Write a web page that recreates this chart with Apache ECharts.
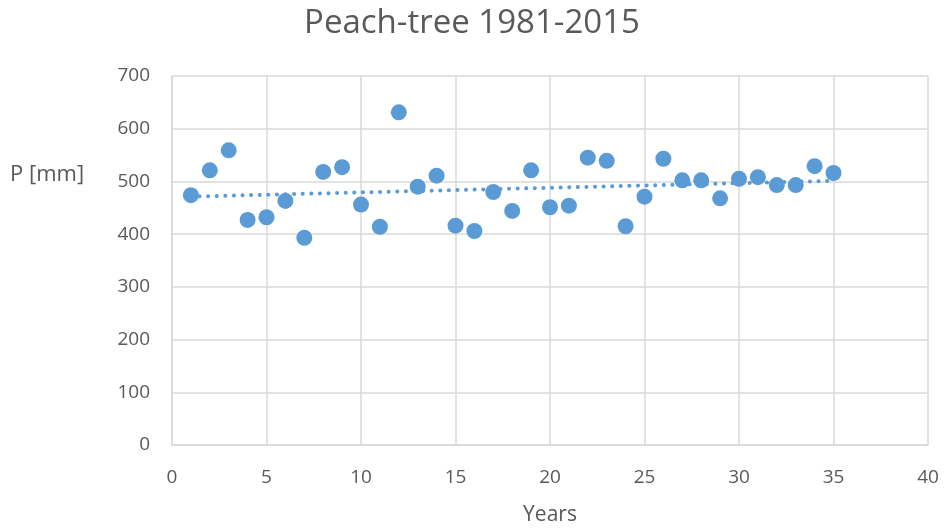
<html>
<head>
<meta charset="UTF-8">
<title>Peach-tree 1981-2015</title>
<script src="https://cdn.jsdelivr.net/npm/echarts@6/dist/echarts.min.js"></script>
<style>html,body,#container{width:100%;height:100%;margin:0;padding:0;background:#fff;}</style>
</head>
<body>
<div id="container"></div>
<script>
// year index 1..35 (1981-2015) and annual precipitation
var years = [1,2,3,4,5,6,7,8,9,10,11,12,13,14,15,16,17,18,19,20,21,22,23,24,25,26,27,28,29,30,31,32,33,34,35];
var precip = [474,521,559,427,432,463,393,518,527,456,414,631,490,511,416,406,480,444,521,451,
              454,545,539,415,471,543,502,502,468,505,508,493,493,529,516];

var points = [];
for (var i = 0; i < years.length; i++) points.push([years[i], precip[i]]);

// linear trend (least squares), like the spreadsheet trendline
var n = years.length, sx = 0, sy = 0, sxx = 0, sxy = 0;
for (var i = 0; i < n; i++) {
  sx += years[i]; sy += precip[i];
  sxx += years[i] * years[i]; sxy += years[i] * precip[i];
}
var slope = (n * sxy - sx * sy) / (n * sxx - sx * sx);
var icpt = (sy - slope * sx) / n;
var trend = [[years[0], icpt + slope * years[0]], [years[n - 1], icpt + slope * years[n - 1]]];

var font = '"Open Sans", sans-serif';
var myChart = echarts.init(document.getElementById('container'));
myChart.setOption({
  animation: false,
  title: {
    text: 'Peach-tree 1981-2015',
    left: 'center',
    top: 2,
    textStyle: { fontFamily: font, fontSize: 33, fontWeight: 'normal', color: '#595959' }
  },
  grid: { left: 172, right: 16, top: 76, bottom: 83, outerBoundsMode: 'none', containLabel: false },
  xAxis: {
    type: 'value', min: 0, max: 40, interval: 5,
    name: 'Years', nameLocation: 'middle', nameGap: 60,
    nameTextStyle: { fontFamily: font, fontSize: 21, color: '#595959' },
    axisLine: { lineStyle: { color: '#d9d9d9', width: 1.5 } },
    axisTick: { show: false },
    axisLabel: { margin: 23, fontFamily: font, fontSize: 19, color: '#595959' },
    splitLine: { show: true, lineStyle: { color: '#d9d9d9', width: 1.5 } }
  },
  yAxis: {
    type: 'value', min: 0, max: 700, interval: 100,
    axisLine: { show: true, lineStyle: { color: '#d9d9d9', width: 1.5 } },
    axisTick: { show: false },
    axisLabel: { margin: 22, fontFamily: font, fontSize: 19, color: '#595959' },
    splitLine: { show: true, lineStyle: { color: '#d9d9d9', width: 1.5 } }
  },
  graphic: [{
    type: 'text', left: 10, top: 164,
    style: { text: 'P [mm]', fontFamily: font, fontSize: 22, fill: '#595959' }
  }],
  series: [{
    type: 'line',
    data: trend,
    symbol: 'none',
    z: 1,
    lineStyle: { color: '#5b9bd5', width: 4, type: [0.1, 8.5], cap: 'round' }
  }, {
    type: 'scatter',
    data: points,
    symbolSize: 16,
    z: 2,
    itemStyle: { color: '#5b9bd5', opacity: 1 }
  }]
});
window.onresize = function () { myChart.resize(); };
</script>
</body>
</html>
